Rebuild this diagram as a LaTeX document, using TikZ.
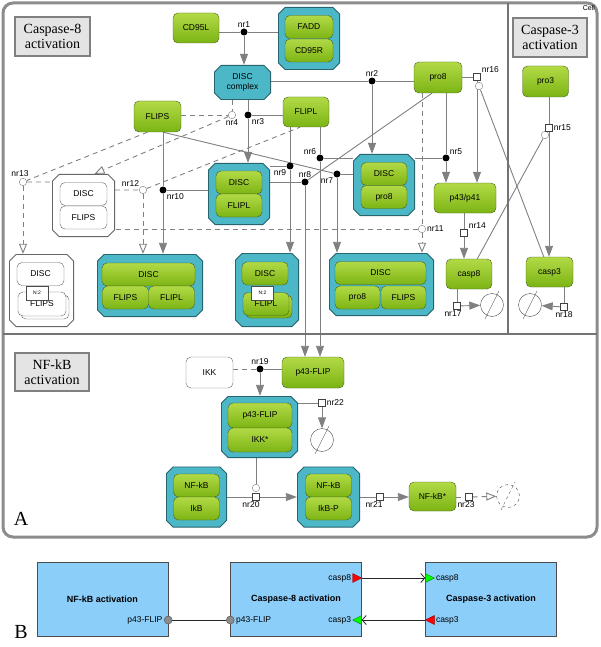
\documentclass[tikz,border=0pt]{standalone}
\usepackage{fontspec}
\setmainfont{Liberation Sans}
\newfontfamily\titlefont{Liberation Serif}
\usetikzlibrary{arrows.meta,calc}

\definecolor{specieslight}{RGB}{178,218,70}
\definecolor{speciesdark}{RGB}{124,180,20}
\definecolor{speciesline}{RGB}{70,96,30}
\definecolor{cplxfill}{RGB}{76,183,198}
\definecolor{cplxline}{RGB}{40,100,110}
\definecolor{linegray}{RGB}{128,128,128}
\definecolor{titlefill}{RGB}{228,228,228}
\definecolor{modfill}{RGB}{140,206,250}

\pgfdeclarelayer{background}
\pgfsetlayers{background,main}

\tikzset{
  species/.style={draw=speciesline, rounded corners=5pt, top color=specieslight,
    bottom color=speciesdark, minimum width=46pt, minimum height=30pt,
    inner sep=0pt, font=\fontsize{8.5}{9}\selectfont},
  part/.style={species, minimum height=23pt},
  wpart/.style={draw=black!60, fill=white, rounded corners=5pt, minimum width=47pt,
    minimum height=23pt, inner sep=0pt, font=\fontsize{8.5}{9}\selectfont},
  octo/.style 2 args={rectangle, inner sep=0pt, path picture={
    \draw[draw=#1, fill=#2, line width=0.9pt]
      ([xshift=7pt,yshift=-.45pt]path picture bounding box.north west)
      -- ([xshift=-7pt,yshift=-.45pt]path picture bounding box.north east)
      -- ([xshift=-.45pt,yshift=-7pt]path picture bounding box.north east)
      -- ([xshift=-.45pt,yshift=7pt]path picture bounding box.south east)
      -- ([xshift=-7pt,yshift=.45pt]path picture bounding box.south east)
      -- ([xshift=7pt,yshift=.45pt]path picture bounding box.south west)
      -- ([xshift=.45pt,yshift=7pt]path picture bounding box.south west)
      -- ([xshift=.45pt,yshift=-7pt]path picture bounding box.north west)
      -- cycle;}},
  cplx/.style={octo={cplxline}{cplxfill}, font=\fontsize{8.5}{10}\selectfont},
  wcplx/.style={octo={black!60}{white}},
  nbox/.style={draw=black!70, fill=white, minimum width=22pt, minimum height=14pt,
    inner sep=1pt, font=\fontsize{5}{5}\selectfont},
  proc/.style={circle, fill=black, inner sep=0pt, minimum size=7pt},
  assoc/.style={circle, draw=linegray, fill=white, inner sep=0pt, minimum size=7.5pt},
  trans/.style={rectangle, draw=black!75, fill=white, inner sep=0pt, minimum size=7pt},
  sink/.style={circle, draw=black!70, inner sep=0pt, minimum size=23pt},
  lbl/.style={font=\fontsize{8.5}{9}\selectfont, inner sep=1pt},
  conn/.style={draw=linegray, line width=0.9pt},
  prod/.style={conn, -{Triangle[width=8pt,length=11pt]}},
  dconn/.style={conn, dash pattern=on 5pt off 4pt},
  dprod/.style={dconn, -{Triangle[open,width=8pt,length=10pt]}},
  titlebox/.style={draw=black!50, line width=2.5pt, fill=titlefill, align=center,
    inner sep=0pt, font=\titlefont\fontsize{14}{15}\selectfont},
  modbox/.style={draw=black!70, fill=modfill, minimum width=131pt,
    minimum height=74pt, font=\bfseries\fontsize{9}{10}\selectfont},
  portlbl/.style={font=\fontsize{8.5}{9}\selectfont, inner sep=1.5pt},
  portdot/.style={circle, draw=black!70, fill=black!45, inner sep=0pt, minimum size=8pt},
  link/.style={draw=black!85, line width=0.8pt, -{Straight Barb[length=4pt,width=9pt]}},
}

\begin{document}
\begin{tikzpicture}[x=1pt, y=-1pt]
\useasboundingbox (0,0) rectangle (600,647);

% panel A frame
\draw[draw=black!45, line width=3pt, rounded corners=10pt] (3,3) rectangle (597,537);
\draw[draw=black!55, line width=2pt] (3,334) -- (597,334);
\draw[draw=black!55, line width=2pt] (508,3) -- (508,334);
\node[anchor=north east, font=\fontsize{7}{7}\selectfont, inner sep=1pt] (cell) at (596,4) {Cell};

\node[titlebox, minimum width=75pt, minimum height=39pt] (tcasp8) at (52.5,36.5) {Caspase-8\\activation};
\node[titlebox, minimum width=74pt, minimum height=39pt] (tcasp3) at (550,37.5) {Caspase-3\\activation};
\node[titlebox, minimum width=74pt, minimum height=38pt] (tnfkb) at (52,372) {NF-kB\\activation};

% caspase-8 activation
\node[species] (cd95l) at (196,28) {CD95L};
\node[cplx, minimum width=62pt, minimum height=63pt] (cfadd) at (309,38.5) {};
\node[part, minimum width=48pt] (fadd) at (309,27) {FADD};
\node[part, minimum width=48pt] (cd95r) at (309,50.5) {CD95R};
\node[cplx, minimum width=57pt, minimum height=35pt, align=center] (disc) at (242.5,82.5) {DISC\\complex};
\node[species, minimum width=48pt, minimum height=31pt] (pro8) at (438,77.5) {pro8};
\node[species, minimum width=47pt, minimum height=31pt] (flips) at (157.5,116.5) {FLIPS};
\node[species] (flipl) at (306,112) {FLIPL};

\node[cplx, minimum width=62pt, minimum height=62pt] (cdflipl) at (239,194) {};
\node[part] (cdflipl1) at (239,182.5) {DISC};
\node[part] (cdflipl2) at (239,205.5) {FLIPL};
\node[cplx, minimum width=62pt, minimum height=62pt] (cdpro8) at (384,185) {};
\node[part] (cdpro81) at (384,174) {DISC};
\node[part] (cdpro82) at (384,197) {pro8};
\node[wcplx, minimum width=63pt, minimum height=63pt] (wdflips) at (83.5,205.5) {};
\node[wpart] (wdflips1) at (83.5,194) {DISC};
\node[wpart] (wdflips2) at (83.5,217.5) {FLIPS};

\node[wcplx, minimum width=65pt, minimum height=73pt] (wn2) at (41.5,290.5) {};
\node[wpart] (wn2a) at (40.5,274) {DISC};
\node[wpart, minimum width=48pt, minimum height=24pt] (wn2c) at (45,307) {};
\node[wpart, minimum width=48pt, minimum height=24pt] (wn2b) at (42,304) {FLIPS};
\node[nbox] (wn2n) at (37,293) {N:2};

\node[cplx, minimum width=106pt, minimum height=63pt] (cbig) at (150,285.5) {};
\node[part, minimum width=93pt] (cbig1) at (148.5,274.5) {DISC};
\node[part] (cbig2) at (125.5,297.5) {FLIPS};
\node[part] (cbig3) at (171.5,297.5) {FLIPL};

\node[cplx, minimum width=64pt, minimum height=74pt] (cn2) at (267,290) {};
\node[part] (cn2a) at (265,273.5) {DISC};
\node[part] (cn2c) at (269,306.5) {};
\node[part] (cn2b) at (266,304) {FLIPL};
\node[nbox] (cn2n) at (262.5,293) {N:2};

\node[cplx, minimum width=105pt, minimum height=63pt] (cp8fs) at (381.5,284.5) {};
\node[part, minimum width=91pt] (cp8fs1) at (380.5,273) {DISC};
\node[part, minimum width=45pt] (cp8fs2) at (357.5,297.5) {pro8};
\node[part, minimum width=45pt] (cp8fs3) at (403.5,297.5) {FLIPS};

\node[species, minimum width=62pt] (p4341) at (465,198) {p43/p41};
\node[species] (casp8) at (469,274) {casp8};
\node[sink] (deg1) at (492,305) {};

% caspase-3 activation
\node[species, minimum height=31pt] (pro3) at (545.5,81.5) {pro3};
\node[species, minimum width=47pt] (casp3) at (549.5,272) {casp3};
\node[sink] (deg2) at (530,305) {};

% NF-kB activation
\node[draw=black!60, fill=white, rounded corners=5pt, minimum width=47pt, minimum height=31pt,
  font=\fontsize{8.5}{9}\selectfont] (ikk) at (209.5,372.5) {IKK};
\node[species, minimum width=62pt, minimum height=31pt] (p43flip) at (313,372.5) {p43-FLIP};
\node[cplx, minimum width=77pt, minimum height=62pt] (cfikk) at (259.5,427) {};
\node[part, minimum width=64pt, minimum height=25pt] (cfikk1) at (260,415.5) {p43-FLIP};
\node[part, minimum width=64pt, minimum height=24pt] (cfikk2) at (260,440) {IKK*};
\node[sink] (deg3) at (322,440) {};
\node[cplx, minimum width=61pt, minimum height=61pt] (cnfkb) at (196.5,497) {};
\node[part] (cnfkb1) at (196.5,485.5) {NF-kB};
\node[part] (cnfkb2) at (196.5,508.5) {IkB};
\node[cplx, minimum width=63pt, minimum height=61pt] (cnfkbp) at (328.5,497) {};
\node[part] (cnfkbp1) at (328.5,485.5) {NF-kB};
\node[part] (cnfkbp2) at (328.5,508.5) {IkB-P};
\node[species, minimum width=47pt, minimum height=29pt] (nfkbs) at (432.5,496.5) {NF-kB*};
\node[sink, dashed] (deg4) at (508,496) {};

% process nodes
\node[proc, label={[lbl]above:nr1}] (nr1) at (244,32) {};
\node[proc, label={[lbl]above:nr2}] (nr2) at (372,81) {};
\node[proc, label={[lbl]below right:nr3}] (nr3) at (248,115) {};
\node[assoc, label={[lbl]below:nr4}] (nr4) at (232,115) {};
\node[proc, label={[lbl]above right:nr5}] (nr5) at (446,158) {};
\node[proc, label={[lbl]above left:nr6}] (nr6) at (320,158) {};
\node[proc, label={[lbl]below left:nr7}] (nr7) at (337,174) {};
\node[proc, label={[lbl]above:nr8}] (nr8) at (305,182) {};
\node[proc, label={[lbl]below left:nr9}] (nr9) at (290,166) {};
\node[proc, label={[lbl]below right:nr10}] (nr10) at (163,190) {};
\node[assoc, label={[lbl]right:nr11}] (nr11) at (422,229) {};
\node[assoc, label={[lbl]above left:nr12}] (nr12) at (143,190) {};
\node[assoc, label={[lbl, xshift=-3pt]above:nr13}] (nr13) at (23,182) {};
\node[trans, label={[lbl]above right:nr14}] (nr14) at (464,233) {};
\node[assoc] (m15) at (545,135) {};
\node[trans, label={[lbl]right:nr15}] (nr15) at (549,128) {};
\node[assoc] (m16) at (479,86) {};
\node[trans, label={[lbl]above right:nr16}] (nr16) at (477,77) {};
\node[trans, label={[lbl, xshift=-4pt]below:nr17}] (nr17) at (457,306) {};
\node[trans, label={[lbl]below:nr18}] (nr18) at (564,307) {};
\node[proc, label={[lbl]above:nr19}] (nr19) at (260,369) {};
\node[assoc] (m20) at (256,488) {};
\node[trans, label={[lbl, xshift=-5pt]below:nr20}] (nr20) at (256,497) {};
\node[trans, label={[lbl, xshift=-6pt]below:nr21}] (nr21) at (380,497) {};
\node[trans, label={[lbl]right:nr22}] (nr22) at (322,403) {};
\node[trans, label={[lbl, xshift=-3pt]below:nr23}] (nr23) at (469,497) {};

% sink slashes
\draw[black!70] ($(deg1)+(-7,14)$) -- ($(deg1)+(7,-14)$);
\draw[black!70] ($(deg2)+(-7,14)$) -- ($(deg2)+(7,-14)$);
\draw[black!70] ($(deg3)+(-7,14)$) -- ($(deg3)+(7,-14)$);
\draw[black!70, dashed] ($(deg4)+(-7,14)$) -- ($(deg4)+(7,-14)$);

\begin{pgfonlayer}{background}
% nr1, nr2
\draw[conn] (nr1 -| cd95l.east) -- (nr1) -- (nr1 -| cfadd.west);
\draw[prod] (nr1) -- (nr1 |- disc.north);
\draw[conn] (disc.east |- nr2) -- (nr2) -- (nr2 -| pro8.west);
\draw[prod] (nr2) -- (nr2 |- cdpro8.north);
% nr3, nr4
\draw[conn] (flipl.west |- nr3) -- (nr3);
\draw[prod] (disc.south -| nr3) -- (nr3) -- (nr3 |- cdflipl.north);
\draw[dconn] (disc.south -| nr4) -- (nr4);
\draw[dconn] (flips.east |- nr4) -- (nr4);
\draw[dprod] (nr4) -- ($(wdflips.north)+(11,0)$);
% nr5, nr16, nr14
\draw[prod] (pro8.south -| nr5) -- (nr5) -- (nr5 |- p4341.north);
\draw[conn] (nr5) -- (nr5 -| cdpro8.east);
\draw[conn] (pro8.east |- nr16) -- (nr16);
\draw[prod] (nr16) -- (nr16 |- p4341.north);
\draw[conn] (m16) -- (casp3);
\draw[prod] (p4341.south -| nr14) -- (nr14) -- (nr14 |- casp8.north);
% nr6 - nr9
\draw[prod] (flipl.south -| nr6) -- (nr6) -- (nr6 |- p43flip.north);
\draw[conn] (nr6) -- (nr6 -| cdpro8.west);
\draw[conn] (flips.south -| nr10) -- (nr7);
\draw[conn] (nr7) -- (nr7 -| cdpro8.west);
\draw[prod] (nr7) -- (nr7 |- cp8fs.north);
\draw[conn] ($(pro8.south)+(-6,0)$) -- (nr8);
\draw[conn] (nr8) -- (nr8 -| cdflipl.east);
\draw[prod] (nr8) -- (nr8 |- p43flip.north);
\draw[prod] (flipl.south -| nr9) -- (nr9) -- (nr9 |- cn2.north);
\draw[conn] (nr9) -- (nr9 -| cdflipl.east);
% nr10 - nr13
\draw[prod] (flips.south -| nr10) -- (nr10) -- (nr10 |- cbig.north);
\draw[conn] (nr10) -- (nr10 -| cdflipl.west);
\draw[dconn] (pro8.south -| nr11) -- (nr11) -- (nr11 -| wdflips.east);
\draw[dprod] (nr11) -- (nr11 |- cp8fs.north);
\draw[dconn] (wdflips.east |- nr12) -- (nr12) -- ($(flipl.south)+(-6,0)$);
\draw[dprod] (nr12) -- (nr12 |- cbig.north);
\draw[dconn] ($(flips.south)+(-10,0)$) -- (nr13) -- (nr13 -| wdflips.west);
\draw[dprod] (nr13) -- (nr13 |- wn2.north);
% caspase-3
\draw[conn] (pro3.south -| nr15) -- (nr15);
\draw[prod] (nr15) -- (nr15 |- casp3.north);
\draw[conn] (casp8) -- (m15);
\draw[conn] (casp8.south -| nr17) -- (nr17);
\draw[prod] (nr17) -- (deg1);
\draw[conn] (casp3.south -| nr18) -- (nr18);
\draw[prod] (nr18) -- (deg2);
% NF-kB
\draw[dconn] (ikk.east |- nr19) -- (nr19);
\draw[conn] (nr19) -- (nr19 -| p43flip.west);
\draw[prod] (nr19) -- (nr19 |- cfikk.north);
\draw[conn] (cfikk.east |- nr22) -- (nr22);
\draw[prod] (nr22) -- (deg3);
\draw[conn] (cfikk.south -| m20) -- (m20);
\draw[conn] (cnfkb.east |- nr20) -- (nr20);
\draw[prod] (nr20) -- (nr20 -| cnfkbp.west);
\draw[conn] (cnfkbp.east |- nr21) -- (nr21);
\draw[prod] (nr21) -- (nr21 -| nfkbs.west);
\draw[dconn] (nfkbs.east |- nr23) -- (nr23);
\draw[dprod] (nr23) -- (deg4);
\end{pgfonlayer}

\node[font=\titlefont\fontsize{20}{20}\selectfont, inner sep=0pt] (pa) at (21,519) {A};

% panel B
\node[modbox] (mnfkb) at (102.5,599) {NF-kB activation};
\node[modbox] (mcasp8) at (296,599) {Caspase-8 activation};
\node[modbox] (mcasp3) at (491,599) {Caspase-3 activation};
\coordinate (o8) at ($(mcasp8.east)+(0,-21)$);
\coordinate (i8) at ($(mcasp3.west)+(0,-21)$);
\coordinate (o3) at ($(mcasp3.west)+(0,21)$);
\coordinate (i3) at ($(mcasp8.east)+(0,21)$);
\node[portdot] (pfout) at ($(mnfkb.east)+(0,21)$) {};
\node[portdot] (pfin) at ($(mcasp8.west)+(0,21)$) {};
\draw[black!85, line width=0.8pt] (pfout) -- (pfin);
\draw[link] (o8) -- (i8);
\draw[link] (o3) -- (i3);
\filldraw[fill=red, draw=red!60!black] (o8) -- ++(-9,-4.5) -- ++(0,9) -- cycle;
\filldraw[fill=green, draw=green!50!black] (i8) ++(0,-4.5) -- ++(9,4.5) -- ++(-9,4.5) -- cycle;
\filldraw[fill=red, draw=red!60!black] (o3) -- ++(9,-4.5) -- ++(0,9) -- cycle;
\filldraw[fill=green, draw=green!50!black] (i3) ++(0,-4.5) -- ++(-9,4.5) -- ++(9,4.5) -- cycle;
\node[portlbl, anchor=east] (lo8) at ($(o8)+(-9,0)$) {casp8};
\node[portlbl, anchor=west] (li8) at ($(i8)+(9,0)$) {casp8};
\node[portlbl, anchor=west] (lo3) at ($(o3)+(9,0)$) {casp3};
\node[portlbl, anchor=east] (li3) at ($(i3)+(-9,0)$) {casp3};
\node[portlbl, anchor=east] (lpfout) at (pfout.west) {p43-FLIP};
\node[portlbl, anchor=west] (lpfin) at (pfin.east) {p43-FLIP};
\node[font=\titlefont\fontsize{20}{20}\selectfont, inner sep=0pt] (pb) at (21,632) {B};
\end{tikzpicture}
\end{document}
